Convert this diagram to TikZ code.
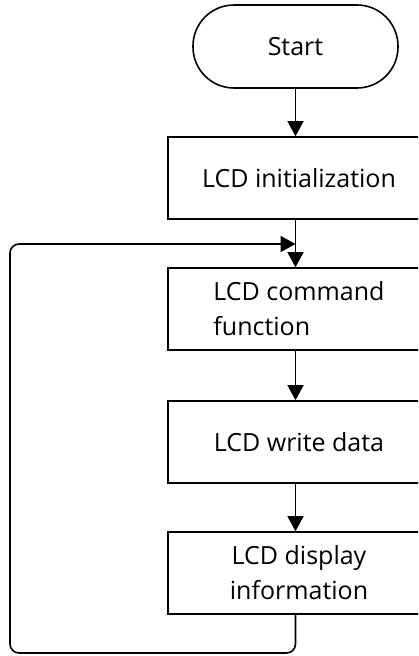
\documentclass[tikz,border=0pt]{standalone}
\usepackage{fontspec}
\setmainfont{Open Sans}
\usetikzlibrary{arrows.meta,calc}
\tikzset{
  box/.style={draw, line width=1.6pt, minimum width=262pt, minimum height=82pt, inner sep=0pt, font=\fontsize{25}{35}\selectfont},
  term/.style={draw, line width=1.6pt, minimum width=205pt, minimum height=83pt, rounded corners=41pt, font=\fontsize{25}{35}\selectfont},
  arr/.style={line width=1.6pt, -{Triangle[width=16pt,length=15pt]}},
  ln/.style={line width=1.6pt}
}
\begin{document}
\begin{tikzpicture}[x=1pt,y=-1pt]
\useasboundingbox (0,0) rectangle (418,656);
\clip (0,0) rectangle (418,656);
\node[term] (start) at (295.5,46.5) {Start};
\node[box] (init) at (299,178) {LCD initialization};
\node[box, align=left] (cmd) at (299,309) {LCD command\\function};
\node[box] (write) at (299,442) {LCD write data};
\node[box, align=center] (disp) at (299,573) {LCD display\\information};
\coordinate (merge) at (295.5,244);
\coordinate (bl) at (10,653);
\draw[arr] (start.south) -- (init.north -| start.south);
\draw[arr] (init.south -| start.south) -- (cmd.north -| start.south);
\draw[arr] (cmd.south -| start.south) -- (write.north -| start.south);
\draw[arr] (write.south -| start.south) -- (disp.north -| start.south);
\draw[arr, rounded corners=9pt] (disp.south -| start.south) -- (bl -| start.south) -- (bl) -- (bl |- merge) -- (merge);
\end{tikzpicture}
\end{document}
